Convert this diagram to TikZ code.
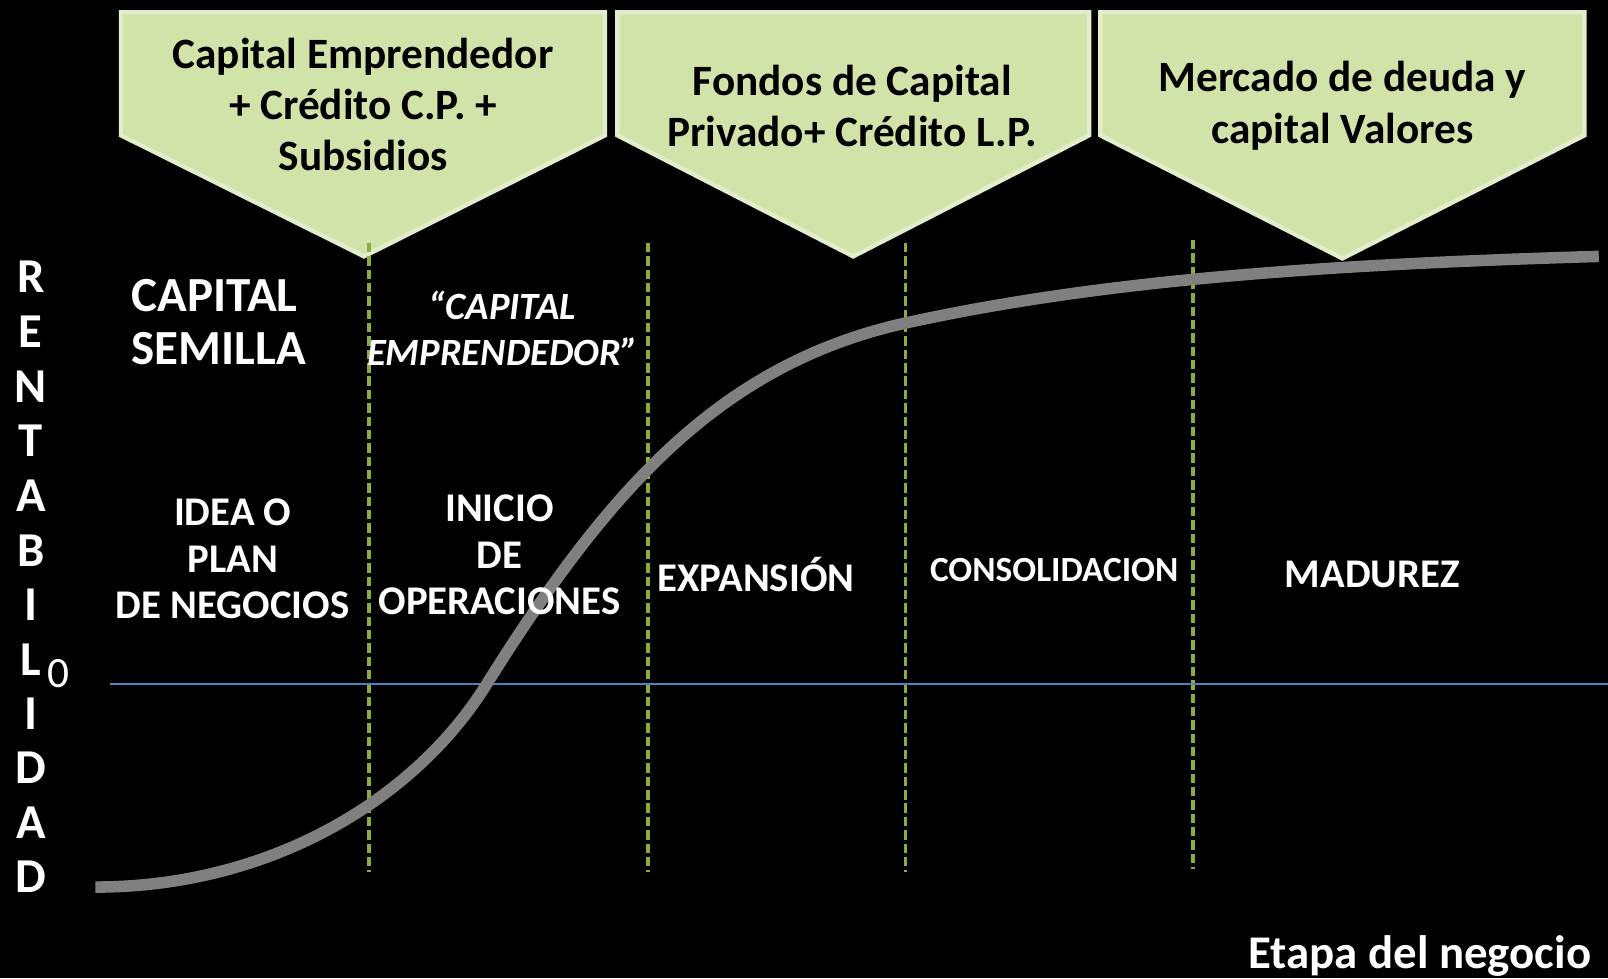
\documentclass[tikz,border=0pt]{standalone}
\usepackage{fontspec}
\setmainfont{Carlito}
\usetikzlibrary{positioning}
\definecolor{fundgreen}{RGB}{209,227,168}
\definecolor{fundedge}{RGB}{226,237,203}
\definecolor{stageline}{RGB}{140,172,60}
\definecolor{zeroline}{RGB}{79,129,189}
\definecolor{curvegray}{RGB}{128,128,128}
\tikzset{fund/.style={fill=fundgreen, draw=fundedge, line width=1.2pt, line join=miter},
  fundtext/.style={align=center, text=black, font=\bfseries\fontsize{12}{14.2}\selectfont},
  stage/.style={align=center, text=white, font=\bfseries\fontsize{11.3}{12.8}\selectfont},
  divider/.style={stageline, line width=1.05pt, dash pattern=on 2.6pt off 1.1pt},
  axisletter/.style={text=white, inner sep=0pt, font=\bfseries\fontsize{13.5}{15}\selectfont}}

\begin{document}
\begin{tikzpicture}[x=0.01cm, y=-0.01cm]
    \useasboundingbox (0,0) rectangle (1568,954);
    \fill[black] (0,0) rectangle (1568,954);

    % fuentes de financiamiento
    \path[fund] (118,12) -- (590,12) -- (590,132) -- (355,250) -- (118,132) -- cycle;
    \path[fund] (602,12) -- (1062,12) -- (1062,132) -- (832,250) -- (602,132) -- cycle;
    \path[fund] (1073,12) -- (1545,12) -- (1545,132) -- (1309,252) -- (1073,132) -- cycle;
    \node[fundtext] (F1) at (354,102) {Capital Emprendedor\\+ Crédito C.P. +\\Subsidios};
    \node[fundtext] (F2) at (831,103) {Fondos de Capital\\Privado+ Crédito L.P.};
    \node[fundtext] (F3) at (1309,103) {Mercado de deuda y\\capital Valores};

    % etapas
    \draw[divider] (360,237) -- (360,850);
    \draw[divider] (632,237) -- (632,850);
    \draw[divider] (883,237) -- (883,850);
    \draw[divider] (1163,234) -- (1163,847);
    \draw[zeroline, line width=0.75pt] (107,667) -- (1568,667);

    % curva de rentabilidad
    \draw[curvegray, line width=3.2pt] (93,865) .. controls (263,865) and (404,780) .. (474,668)
        .. controls (594,476) and (703,355) .. (883,315)
        .. controls (1083,271) and (1309,257.5) .. (1559,250);

    \node[stage, anchor=west, align=left, font=\bfseries\fontsize{13.6}{14.8}\selectfont] (S1) at (116,314) {CAPITAL\\SEMILLA};
    \node[stage, font=\bfseries\itshape\fontsize{10.7}{12.8}\selectfont] (S2) at (490,320) {“CAPITAL\\EMPRENDEDOR”};
    \node[stage] (E1) at (227,545) {IDEA O\\PLAN\\DE NEGOCIOS};
    \node[stage] (E2) at (487,541) {INICIO\\DE\\OPERACIONES};
    \node[stage] (E3) at (737,560) {EXPANSIÓN};
    \node[stage, font=\bfseries\fontsize{9.8}{12}\selectfont] (E4) at (1028,556) {CONSOLIDACION};
    \node[stage] (E5) at (1338,560) {MADUREZ};

    % ejes
    \node[axisletter] (R1) at (30,270) {R};
    \node[axisletter] (R2) at (30,323) {E};
    \node[axisletter] (R3) at (30,377) {N};
    \node[axisletter] (R4) at (30,430) {T};
    \node[axisletter] (R5) at (30,483) {A};
    \node[axisletter] (R6) at (30,537) {B};
    \node[axisletter] (R7) at (30,590) {I};
    \node[axisletter] (R8) at (30,643) {L};
    \node[axisletter] (R9) at (30,696) {I};
    \node[axisletter] (R10) at (30,749) {D};
    \node[axisletter] (R11) at (30,802) {A};
    \node[axisletter] (R12) at (30,855) {D};
    \node[text=white, font=\fontsize{12}{14}\selectfont] (Z) at (57,657) {0};
    \node[stage, anchor=east, font=\bfseries\fontsize{13}{15}\selectfont] (X) at (1564,932) {Etapa del negocio};
\end{tikzpicture}
\end{document}
